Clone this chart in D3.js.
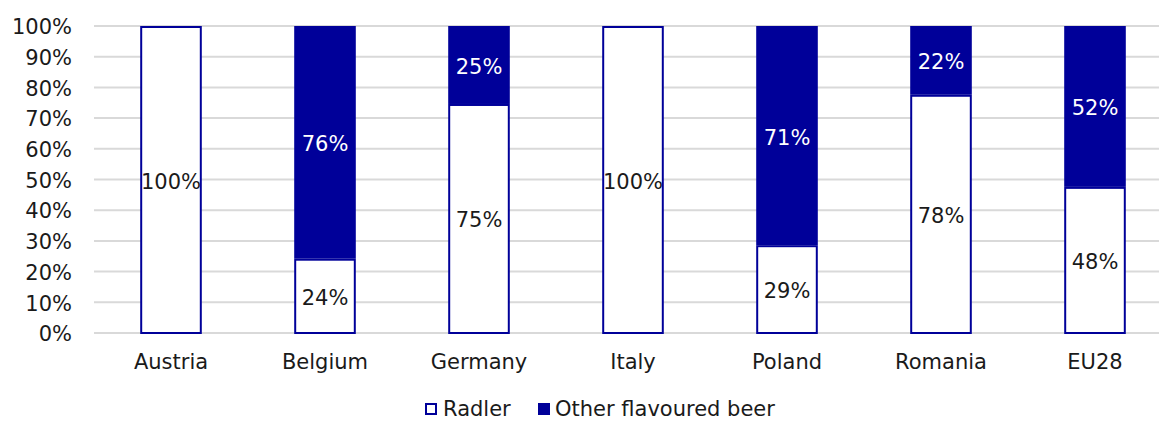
<!DOCTYPE html>
<html>
<head>
<meta charset="utf-8">
<script src="https://cdn.jsdelivr.net/npm/d3@7"></script>
<style>
  body { margin: 0; background: #fff; }
  text { font-family: "DejaVu Sans", Verdana, sans-serif; }
</style>
</head>
<body>
<div id="chart"></div>
<script>
// data
var countries = ["Austria", "Belgium", "Germany", "Italy", "Poland", "Romania", "EU28"];
var radler = [100, 24.2, 74.6, 100, 28.6, 77.6, 47.6];
var otherBeer = [0, 75.8, 25.4, 0, 71.4, 22.4, 52.4];
var yTicks = [0, 10, 20, 30, 40, 50, 60, 70, 80, 90, 100];
var seriesNames = ["Radler", "Other flavoured beer"];

var width = 1159;
var height = 421;
var navy = "#000099";
var fontSize = 21;

var svg = d3.select("#chart")
            .append("svg")
            .attr("width", width)
            .attr("height", height);

// scales
var xScale = d3.scaleBand()
               .domain(countries)
               .range([94, 1172])
               .paddingInner(0.6)
               .paddingOuter(0.3);

var yScale = d3.scaleLinear()
               .domain([0, 100])
               .range([333, 26]);

// gridlines
svg.append("g")
   .selectAll("line")
   .data(yTicks)
   .enter()
   .append("line")
   .attr("x1", 94)
   .attr("x2", width)
   .attr("y1", d => yScale(d))
   .attr("y2", d => yScale(d))
   .attr("stroke", "#d9d9d9")
   .attr("stroke-width", 2);

// y axis labels
var yAxis = d3.axisLeft(yScale)
              .tickValues(yTicks)
              .tickFormat(d => d + "%")
              .tickSize(0)
              .tickPadding(0);

svg.append("g")
   .attr("transform", "translate(72,1)")
   .call(yAxis)
   .call(g => g.select(".domain").remove())
   .selectAll("text")
   .attr("font-size", fontSize)
   .attr("fill", "#1a1a1a")
   .attr("font-family", "DejaVu Sans, Verdana, sans-serif");

// x axis labels
var xAxis = d3.axisBottom(xScale).tickSize(0).tickPadding(0);

svg.append("g")
   .attr("transform", "translate(0,354)")
   .call(xAxis)
   .call(g => g.select(".domain").remove())
   .selectAll("text")
   .attr("font-size", fontSize)
   .attr("fill", "#1a1a1a")
   .attr("font-family", "DejaVu Sans, Verdana, sans-serif");

var rows = countries.map((c, i) => ({country: c, radler: radler[i], other: otherBeer[i]}));

// other flavoured beer segment (top)
svg.append("g")
   .selectAll("rect")
   .data(rows.filter(d => d.other > 0))
   .enter()
   .append("rect")
   .attr("x", d => xScale(d.country))
   .attr("width", xScale.bandwidth())
   .attr("y", d => yScale(100))
   .attr("height", d => yScale(d.radler) - yScale(100))
   .attr("fill", navy);

// radler segment (bottom)
svg.append("g")
   .selectAll("rect")
   .data(rows)
   .enter()
   .append("rect")
   .attr("x", d => xScale(d.country) + 1)
   .attr("width", xScale.bandwidth() - 2)
   .attr("y", d => yScale(d.radler) + 1)
   .attr("height", d => yScale(0) - yScale(d.radler) - 1)
   .attr("fill", "#fff")
   .attr("stroke", navy)
   .attr("stroke-width", 2);

// value labels
svg.append("g")
   .selectAll("text")
   .data(rows)
   .enter()
   .append("text")
   .attr("x", d => xScale(d.country) + xScale.bandwidth() / 2)
   .attr("y", d => yScale(d.radler / 2) + 9)
   .attr("text-anchor", "middle")
   .attr("font-size", fontSize)
   .attr("fill", "#1a1a1a")
   .text(d => Math.round(d.radler) + "%");

svg.append("g")
   .selectAll("text")
   .data(rows.filter(d => d.other > 0))
   .enter()
   .append("text")
   .attr("x", d => xScale(d.country) + xScale.bandwidth() / 2)
   .attr("y", d => yScale(d.radler + d.other / 2) + 9)
   .attr("text-anchor", "middle")
   .attr("font-size", fontSize)
   .attr("fill", "#fff")
   .text(d => Math.round(d.other) + "%");

// legend
var legend = svg.append("g").attr("transform", "translate(425,403)");

legend.append("rect")
      .attr("x", 1).attr("y", 1)
      .attr("width", 10).attr("height", 10)
      .attr("fill", "#fff")
      .attr("stroke", navy)
      .attr("stroke-width", 2);
legend.append("text")
      .attr("x", 18).attr("y", 13)
      .attr("font-size", fontSize)
      .attr("fill", "#1a1a1a")
      .text(seriesNames[0]);

legend.append("rect")
      .attr("x", 113).attr("y", 0)
      .attr("width", 12).attr("height", 12)
      .attr("fill", navy);
legend.append("text")
      .attr("x", 130).attr("y", 13)
      .attr("font-size", fontSize)
      .attr("fill", "#1a1a1a")
      .text(seriesNames[1]);
</script>
</body>
</html>
